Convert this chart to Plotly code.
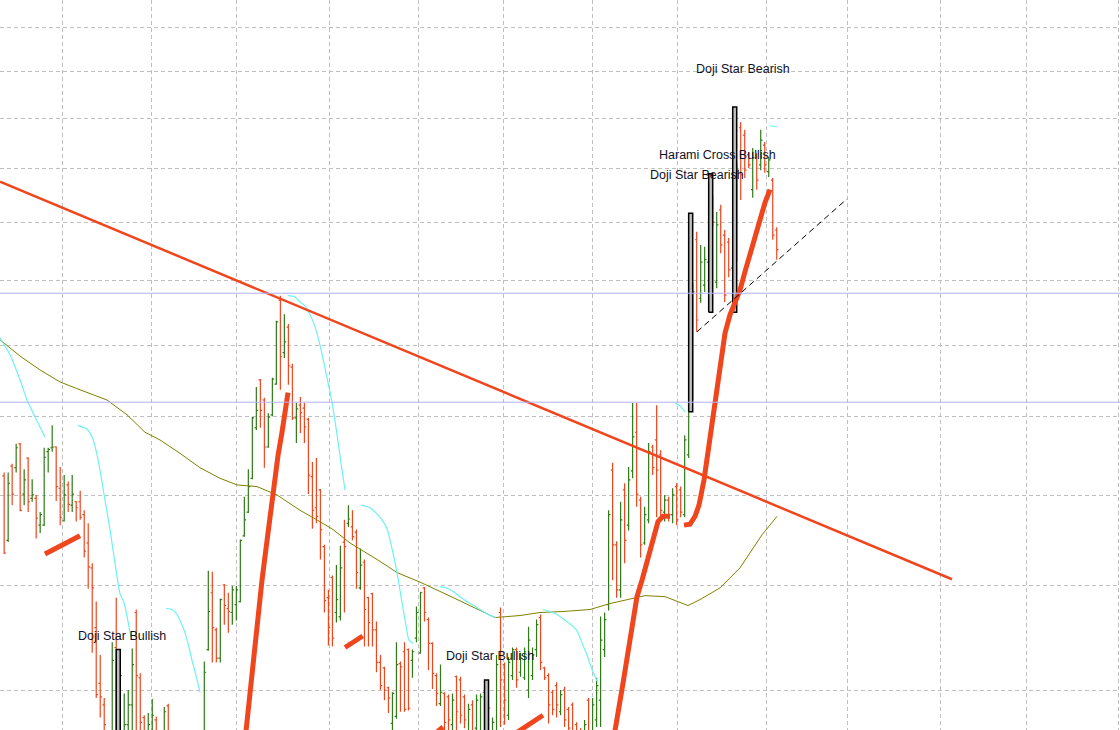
import math
import plotly.graph_objects as go

# ---------------- data (prices) ----------------
bar_open = [8.24,7.49,8.36,8.34,8.64,8.02,8.46,7.97,7.97,7.66,7.66,8.54,8.59,8.60,8.09,7.71,8.13,7.89,7.93,7.93,
            7.78,7.46,7.19,6.58,6.06,5.87,5.49,5.49,6.39,6.16,5.55,5.70,5.87,6.73,6.11,5.76,5.57,5.61,5.74,5.52,
            5.53,5.86,5.50,5.28,5.12,5.25,5.40,5.30,5.44,5.50,5.57,6.37,6.93,6.56,6.29,7.01,6.77,6.73,6.81,6.84,
            7.54,7.81,8.21,8.85,9.50,9.22,8.60,9.02,9.44,10.69,9.89,10.27,9.68,8.98,9.15,9.11,8.96,8.23,7.86,8.07,
            7.42,6.88,7.09,6.73,6.69,7.47,7.68,7.64,7.58,6.98,7.25,6.88,6.92,6.56,6.25,6.20,6.02,5.71,5.77,6.24,
            6.35,6.37,6.27,6.48,6.34,6.98,6.66,6.43,6.13,5.88,5.97,5.94,5.70,6.12,6.09,5.94,5.65,5.87,5.67,5.65,
            5.98,5.87,5.57,5.65,6.73,6.23,5.78,6.13,6.37,6.16,6.11,6.00,6.13,6.37,6.68,6.20,6.13,5.98,6.04,5.81,
            6.00,5.83,5.87,5.70,5.65,5.55,5.91,5.61,5.74,5.91,6.37,6.81,8.31,7.44,6.96,8.07,7.66,8.30,8.79,7.95,
            7.46,7.72,8.60,8.69,8.50,7.81,7.95,7.78,8.11,8.07,7.78,8.50,9.33,11.69,10.72,10.93,11.31,12.40,10.98,12.22,
            11.77,11.65,11.21,11.43,13.80,13.65,13.26,12.59,13.20,13.06,13.45,12.93,12.77,11.86]
bar_high = [8.28,8.28,8.39,8.64,8.65,8.32,8.47,8.20,8.01,7.81,8.59,8.59,8.88,8.61,8.35,8.25,8.17,8.25,7.94,8.06,
            7.83,7.68,7.24,6.84,6.32,5.93,5.53,6.44,6.88,6.37,5.97,6.00,6.38,6.76,6.15,5.78,5.80,5.92,5.77,5.55,
            5.85,5.88,5.54,5.40,5.30,5.45,5.52,5.48,5.58,5.60,6.26,7.16,7.15,6.58,6.87,7.02,6.93,7.00,7.00,7.50,
            7.99,8.32,8.99,9.40,9.51,9.25,9.04,9.53,10.37,10.76,10.47,10.32,9.73,9.18,9.26,9.18,8.98,8.41,8.46,8.08,
            7.44,6.96,7.11,7.22,7.43,7.72,7.89,7.83,7.61,7.40,7.28,6.89,6.93,6.64,6.32,6.21,6.03,5.98,6.44,6.26,
            6.44,6.38,6.37,6.79,6.94,6.99,6.68,6.44,6.15,6.23,5.98,5.96,5.97,6.13,6.12,5.96,5.88,5.91,5.96,5.97,
            6.00,5.88,5.76,6.32,6.78,6.25,6.30,6.39,6.39,6.34,6.39,6.59,6.39,6.66,6.71,6.21,6.15,6.00,6.07,6.00,
            6.03,5.85,5.89,5.72,5.67,5.74,5.93,5.93,6.11,6.69,6.73,7.83,8.40,7.48,7.93,8.15,8.35,9.18,9.18,7.99,
            7.87,8.65,8.63,9.15,8.56,8.01,7.99,8.09,8.15,8.11,8.75,9.29,10.97,11.83,11.60,11.57,12.18,12.49,12.18,12.31,
            11.86,11.72,11.72,13.12,13.92,13.76,13.31,13.39,13.29,13.76,13.51,13.22,12.81,11.91]
bar_low = [7.34,7.47,7.89,8.28,7.82,7.89,7.81,7.93,7.51,7.57,7.65,8.28,8.54,7.94,7.66,7.70,7.81,7.81,7.70,7.72,
           7.30,6.97,6.34,5.93,5.76,5.61,5.21,5.41,5.41,5.53,5.53,5.61,5.53,5.57,5.41,5.41,5.41,5.41,5.41,5.30,
           5.41,5.41,5.20,5.05,5.00,5.18,5.22,5.20,5.35,5.38,5.53,6.36,6.25,6.25,6.25,6.61,6.53,6.61,6.65,6.83,
           7.53,7.80,8.20,8.82,8.85,8.34,8.59,9.00,9.43,9.36,9.81,9.43,8.95,8.65,8.78,8.65,8.02,7.62,7.68,7.28,
           6.73,6.41,6.40,6.63,6.65,6.73,7.64,7.49,6.97,6.96,6.40,6.40,6.40,6.16,6.00,5.91,5.80,5.65,5.75,5.81,
           5.81,5.82,6.11,6.44,6.33,6.64,6.18,6.01,5.86,5.86,5.65,5.65,5.65,5.65,5.71,5.67,5.61,5.57,5.61,5.61,
           5.53,5.53,5.53,5.61,5.68,5.70,5.74,6.09,6.02,6.12,6.09,5.93,6.09,6.30,6.18,6.09,5.71,5.78,5.76,5.78,
           5.68,5.61,5.57,5.53,5.49,5.53,5.53,5.57,5.68,5.68,6.30,6.75,7.06,6.88,6.88,7.24,7.60,8.21,7.87,7.30,
           7.44,7.68,8.25,7.75,7.75,7.70,7.70,7.68,7.66,7.75,7.75,8.46,9.22,10.20,10.65,10.82,11.18,11.90,10.88,11.46,
           10.66,11.06,11.15,11.31,12.40,12.81,13.00,12.44,12.59,12.96,12.91,12.83,11.69,11.35]
bar_close = [7.35,8.15,8.02,8.59,7.83,8.19,7.93,8.01,7.74,7.78,8.47,8.57,8.60,8.11,7.75,8.01,7.90,8.02,7.86,7.75,
             7.37,7.20,6.98,5.96,5.94,5.70,5.33,6.27,6.00,6.13,5.70,5.87,6.23,6.13,5.72,5.65,5.70,5.78,5.57,5.40,
             5.81,5.57,5.28,5.12,5.25,5.40,5.30,5.44,5.50,5.52,6.16,6.74,6.58,6.29,6.86,6.80,6.74,6.96,6.96,7.49,
             7.72,8.11,8.98,9.08,9.08,8.60,8.99,9.51,10.35,9.83,10.05,9.70,8.98,9.10,9.05,8.86,8.25,7.83,7.76,7.61,
             6.85,6.58,6.48,6.86,7.19,7.42,7.73,7.53,7.14,7.22,6.76,6.63,6.56,6.25,6.04,6.00,5.93,5.97,6.23,6.21,
             5.83,5.84,6.35,6.73,6.93,6.73,6.43,6.15,5.97,5.98,5.72,5.74,5.91,5.81,5.78,5.74,5.83,5.65,5.91,5.94,
             5.70,5.84,5.72,6.23,6.09,5.91,6.25,6.37,6.09,6.29,6.35,6.46,6.32,6.61,6.25,6.11,5.87,5.83,5.87,5.96,
             5.74,5.67,5.61,5.57,5.53,5.70,5.61,5.87,6.04,6.46,6.66,7.78,7.44,6.96,7.72,7.49,8.19,8.73,8.02,7.44,
             7.78,8.54,8.34,8.31,7.83,7.95,7.78,8.01,7.72,7.81,8.69,9.22,10.82,10.38,11.31,11.35,12.00,12.00,11.95,11.60,
             10.77,11.18,11.60,12.96,12.87,12.96,13.06,13.20,12.77,13.55,13.06,13.16,11.77,11.52]
bar_index = list(range(len(bar_open)))

# moving average (olive)
ma_x = [-1.04,3.96,8.95,13.95,18.95,25.69,30.69,35.18,38.93,43.93,48.92,53.92,58.17,63.16,68.16,73.91,78.15,
        82.15,86.40,90.64,93.89,98.14,103.88,110.63,117.12,122.62,128.87,133.86,139.61,146.35,151.35,155.60,
        160.09,165.09,168.84,170.84,173.83,178.83,183.82,189.32,193.07]
ma_y = [10.08,9.84,9.64,9.47,9.36,9.22,9.02,8.79,8.69,8.52,8.34,8.21,8.13,8.11,8.01,7.83,7.72,7.61,7.46,7.35,
        7.26,7.14,7.04,6.91,6.78,6.68,6.70,6.73,6.74,6.76,6.82,6.86,6.90,6.89,6.83,6.80,6.86,6.98,7.19,7.55,7.76]

# cyan indicator segments
cyan_segments_x = [
    [-1.04,1.46,3.96,5.71,7.71,10.20],
    [18.45,20.70,21.95,22.94,23.94,25.19,26.44,27.69,28.94,29.94,30.94,31.69],
    [40.43,41.93,43.18,44.18,45.18,46.18,46.93,47.93,48.92],
    [70.91,72.66,73.91,75.16,76.41,77.40,78.40,79.40,80.65,81.90,83.15,84.40,85.15],
    [89.14,91.39,92.89,94.39,95.64,96.89,98.14,99.39,100.39,101.14,102.14],
    [108.88,110.38,111.88,113.88,115.62,117.37,118.87,120.87,122.87],
    [134.61,136.36,138.11,139.86,141.60,143.10,144.60,145.60,146.60,148.10],
    [167.59,168.84,170.08],
    [191.32,193.07],
]
cyan_segments_y = [
    [10.11,9.86,9.50,9.22,8.99,8.73],
    [8.88,8.83,8.73,8.56,8.31,7.95,7.61,7.24,6.92,6.83,6.64,6.49],
    [6.77,6.76,6.71,6.63,6.53,6.39,6.27,6.13,5.98],
    [10.76,10.74,10.66,10.60,10.46,10.32,10.12,9.87,9.53,9.19,8.76,8.31,8.07],
    [7.89,7.86,7.80,7.72,7.62,7.40,7.14,6.83,6.60,6.46,6.43],
    [6.99,6.98,6.95,6.89,6.84,6.80,6.76,6.71,6.68],
    [6.76,6.74,6.71,6.66,6.61,6.55,6.41,6.32,6.21,6.08],
    [9.18,9.14,9.06],
    [13.84,13.82],
]

# thick orange-red indicator segments
thick_segments_x = [
    [10.20,14.70,18.95],
    [59.92,60.42,62.42,64.41,65.91,67.16,68.41,69.41,70.16,70.91],
    [85.15,89.57],
    [107.88,109.63],
    [127.87,134.61],
    [151.85,152.60,154.59,156.34,158.09,159.34,160.84,162.09,163.34,164.59,166.34],
    [169.83,171.33,172.58,173.58,174.83,175.83,176.83,177.83,178.83,180.08,181.32,182.57,183.82,185.07,
     186.32,187.57,188.82,190.07,191.32],
]
thick_segments_y = [
    [7.34,7.44,7.54],
    [5.49,5.65,6.32,7.06,7.57,8.03,8.49,8.79,9.06,9.32],
    [6.39,6.50],
    [5.63,5.68],
    [5.63,5.78],
    [5.57,5.65,6.06,6.43,6.89,7.06,7.28,7.49,7.70,7.76,7.76],
    [7.66,7.67,7.76,7.89,8.19,8.54,8.95,9.36,9.78,10.18,10.46,10.66,10.85,11.15,11.43,11.76,12.07,12.35,12.59],
]

# trend lines and horizontal levels
trend_x = [-1.04, 236.78]
trend_y = [12.74, 7.07]
support_x = [173.08, 210.55]
support_y = [10.20, 12.42]
level_values = [10.80, 9.19]

# candlestick patterns
pattern_names = ["Doji Star Bullish", "Doji Star Bullish", "Doji Star Bearish",
                 "Harami Cross Bullish", "Doji Star Bearish"]
pattern_start = [28, 120, 171, 176, 182]
pattern_end = [29, 121, 172, 177, 183]
pattern_top = [6.37, 6.09, 12.16, 12.89, 14.23]
pattern_bottom = [5.40, 5.40, 9.06, 10.50, 10.50]
label_x = [29.56, 121.49, 173.20, 178.08, 184.45]
label_y = [6.50, 6.31, 12.87, 13.26, 15.05]

# grid positions
grid_x = [14.53, 36.86, 57.92, 81.23, 103.56, 124.79, 147.03, 168.16, 190.49, 210.63, 233.79, 255.27, 278.25]
grid_y = [6, 7, 8, 9, 10, 11, 12, 13, 14, 15, 16]

# ---------------- styles ----------------
RED = "#F0461E"
GREEN = "#2E7B18"
CYAN = "#6CF2F2"
OLIVE = "#808000"
BLUE = "#B0B0FF"
GRID = "#C0C0C0"


def join_segments(seg_list):
    out = []
    for k, seg in enumerate(seg_list):
        if k:
            out.append(None)
        out.extend(seg)
    return out


fig = go.Figure()

for v in level_values:
    fig.add_hline(y=v, line=dict(color=BLUE, width=1))

fig.add_trace(go.Scatter(x=ma_x, y=ma_y, mode="lines", line=dict(color=OLIVE, width=1),
                         hoverinfo="skip", showlegend=False))
fig.add_trace(go.Scatter(x=join_segments(cyan_segments_x), y=join_segments(cyan_segments_y),
                         mode="lines", line=dict(color=CYAN, width=1.2, shape="spline", smoothing=0.6),
                         connectgaps=False, hoverinfo="skip", showlegend=False))

# pattern boxes (drawn below the bars)
for s, e, top, bot in zip(pattern_start, pattern_end, pattern_top, pattern_bottom):
    fig.add_trace(go.Scatter(x=[s, e, e, s, s], y=[bot, bot, top, top, bot], mode="lines",
                             fill="toself", fillcolor="#C0C0C0",
                             line=dict(color="#000000", width=1.5),
                             hoverinfo="skip", showlegend=False))

fig.add_trace(go.Ohlc(x=bar_index, open=bar_open, high=bar_high, low=bar_low, close=bar_close,
                      increasing=dict(line=dict(color=GREEN, width=1.2)),
                      decreasing=dict(line=dict(color=RED, width=1.2)),
                      tickwidth=0.45, hoverinfo="skip", showlegend=False))

fig.add_trace(go.Scatter(x=join_segments(thick_segments_x), y=join_segments(thick_segments_y),
                         mode="lines", line=dict(color=RED, width=5), connectgaps=False,
                         hoverinfo="skip", showlegend=False))
fig.add_trace(go.Scatter(x=trend_x, y=trend_y, mode="lines", line=dict(color=RED, width=2.5),
                         hoverinfo="skip", showlegend=False))
fig.add_trace(go.Scatter(x=support_x, y=support_y, mode="lines",
                         line=dict(color="#000000", width=1, dash="6px,4px"),
                         hoverinfo="skip", showlegend=False))

# annotations on a log axis take log10 positions
for name, lx, ly in zip(pattern_names, label_x, label_y):
    fig.add_annotation(x=lx, y=math.log10(ly), xref="x", yref="y", text=name, showarrow=False,
                       xanchor="center", yanchor="middle",
                       font=dict(family="Arial, 'Liberation Sans', sans-serif", size=12.5, color="#101028"))

fig.update_layout(
    width=1120, height=730,
    margin=dict(l=0, r=0, t=0, b=0),
    paper_bgcolor="#FFFFFF", plot_bgcolor="#FFFFFF",
    showlegend=False,
    xaxis=dict(type="linear", range=[-1.0375, 278.75], tickvals=grid_x, showticklabels=False,
               ticks="", showgrid=True, gridcolor=GRID, gridwidth=1, griddash="4px,3px",
               zeroline=False, showline=False, rangeslider=dict(visible=False), fixedrange=True),
    yaxis=dict(type="log", range=[0.75243, 1.22205], tickvals=grid_y, showticklabels=False,
               ticks="", showgrid=True, gridcolor=GRID, gridwidth=1, griddash="4px,3px",
               zeroline=False, showline=False, fixedrange=True),
)

fig.write_html("out.html", config={"displayModeBar": False},
               post_script="document.body.style.margin='0';document.body.style.overflow='hidden';")
